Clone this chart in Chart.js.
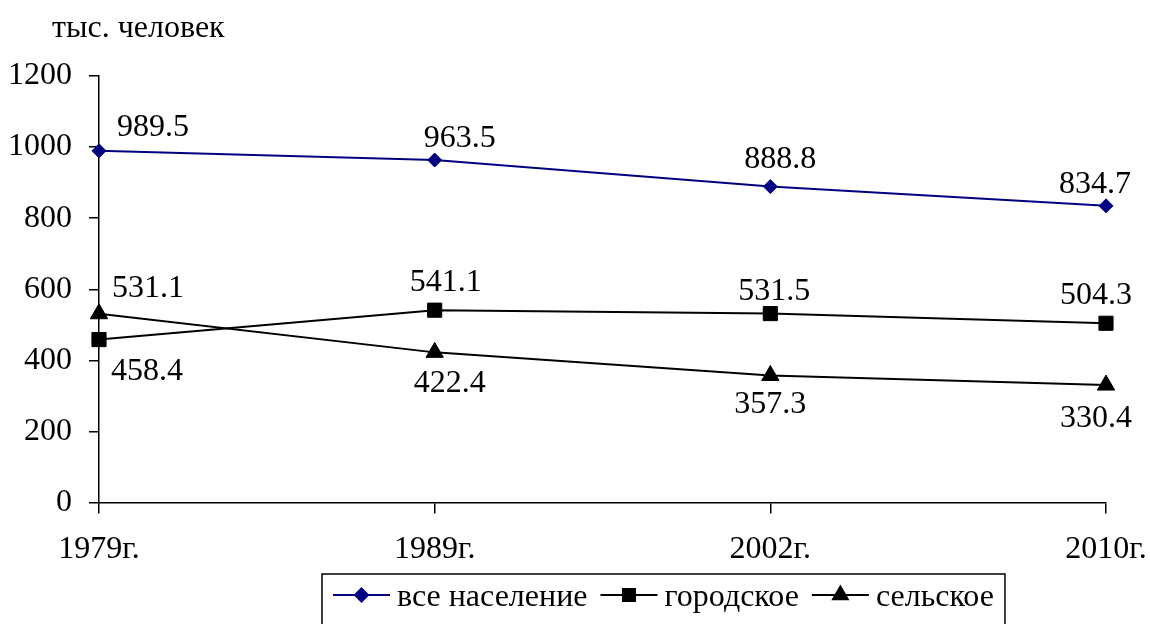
<!DOCTYPE html>
<html>
<head>
<meta charset="utf-8">
<script src="https://cdn.jsdelivr.net/npm/chart.js@4"></script>
<style>
  html, body { margin: 0; padding: 0; background: #fff; }
  canvas { display: block; }
</style>
</head>
<body>
<canvas id="populationChart" width="1150" height="624"></canvas>
<script>
// Данные графика
const years = ["1979г.", "1989г.", "2002г.", "2010г."];
const seriesNames = ["все население", "городское", "сельское"];
const totalValues = [989.5, 963.5, 888.8, 834.7];
const urbanValues = [458.4, 541.1, 531.5, 504.3];
const ruralValues = [531.1, 422.4, 357.3, 330.4];
const yTicks = [0, 200, 400, 600, 800, 1000, 1200];
const unitLabel = "тыс. человек";

// Смещения подписей значений (от центра точки), по сериям
const labelOffsets = [
  [[54, -26], [25, -24], [10, -30], [-11, -24]],
  [[48, 29], [11, -30], [4, -25], [-10, -30]],
  [[49, -28], [15, 29], [0, 26], [-10, 31]],
];

const FONT = "'Liberation Serif', 'Times New Roman', serif";
const FONT_SIZE = 32;

const markerStyles = [
  { pointStyle: "rectRot", radius: 7, color: "#000080" },
  { pointStyle: "rect", radius: 10, color: "#000000" },
  { pointStyle: "triangle", radius: 10, color: "#000000" },
];

// Подписи значений у точек
const valueLabelsPlugin = {
  id: "valueLabels",
  afterDatasetsDraw(chart) {
    const ctx = chart.ctx;
    ctx.save();
    ctx.font = FONT_SIZE + "px " + FONT;
    ctx.fillStyle = "#000";
    ctx.textAlign = "center";
    ctx.textBaseline = "alphabetic";
    chart.data.datasets.forEach((ds, i) => {
      const meta = chart.getDatasetMeta(i);
      meta.data.forEach((pt, j) => {
        const off = labelOffsets[i][j];
        ctx.fillText(ds.data[j].toFixed(1), pt.x + off[0], pt.y + off[1] + 11);
      });
    });
    ctx.restore();
  },
};

// Подпись единиц и легенда в рамке
const extrasPlugin = {
  id: "extras",
  afterDraw(chart) {
    const ctx = chart.ctx;
    ctx.save();
    ctx.fillStyle = "#000";
    ctx.font = FONT_SIZE + "px " + FONT;
    ctx.textAlign = "left";
    ctx.textBaseline = "alphabetic";
    ctx.fillText(unitLabel, 52, 37);

    // легенда
    const lineW = 57, gapText = 7, gapItem = 13;
    const boxLeft = 322, boxTop = 574, midY = 595;
    let x = boxLeft + 11;
    let textEnd = x;
    seriesNames.forEach((name, i) => {
      const st = markerStyles[i];
      ctx.strokeStyle = st.color;
      ctx.lineWidth = 2;
      ctx.beginPath();
      ctx.moveTo(x, midY);
      ctx.lineTo(x + lineW, midY);
      ctx.stroke();
      ctx.fillStyle = st.color;
      Chart.helpers.drawPoint(ctx, {
        pointStyle: st.pointStyle,
        radius: st.pointStyle === "rectRot" ? 6.5 : 8.5,
        rotation: 0,
        borderWidth: 1,
      }, x + lineW / 2, midY);
      ctx.fill();
      ctx.fillStyle = "#000";
      const tx = x + lineW + gapText;
      ctx.fillText(name, tx, midY + 11);
      textEnd = tx + ctx.measureText(name).width;
      x = textEnd + gapItem;
    });
    ctx.strokeStyle = "#000";
    ctx.lineWidth = 1.5;
    ctx.strokeRect(boxLeft, boxTop, textEnd + 11 - boxLeft, 80);
    ctx.restore();
  },
};

const ctx = document.getElementById("populationChart").getContext("2d");
const makeDataset = (label, data, st) => ({
  label: label,
  data: data,
  borderColor: st.color,
  backgroundColor: st.color,
  pointBackgroundColor: st.color,
  pointBorderColor: st.color,
  borderWidth: 2,
  pointStyle: st.pointStyle,
  pointRadius: st.radius,
  pointBorderWidth: 1,
  tension: 0,
});

new Chart(ctx, {
  type: "line",
  data: {
    labels: years,
    datasets: [
      makeDataset(seriesNames[0], totalValues, markerStyles[0]),
      makeDataset(seriesNames[1], urbanValues, markerStyles[1]),
      makeDataset(seriesNames[2], ruralValues, markerStyles[2]),
    ],
  },
  options: {
    responsive: false,
    animation: false,
    layout: { padding: { left: 0, right: 44, top: 76, bottom: 0 } },
    plugins: {
      legend: { display: false },
      tooltip: { enabled: false },
    },
    elements: { point: { hoverRadius: 0 } },
    scales: {
      x: {
        offset: false,
        grid: { drawOnChartArea: false, drawTicks: true, tickLength: 11, color: "#000", lineWidth: 1.5 },
        border: { display: true, color: "#000", width: 1.5 },
        ticks: { color: "#000", font: { family: FONT, size: FONT_SIZE }, padding: 17, maxRotation: 0 },
        afterFit(scale) {
          scale.height = 121.5;
          scale.paddingLeft = 0;
          scale.paddingRight = 0;
        },
      },
      y: {
        min: 0,
        max: 1200,
        afterBuildTicks(scale) { scale.ticks = yTicks.map((v) => ({ value: v })); },
        grid: { drawOnChartArea: false, drawTicks: true, tickLength: 10, color: "#000", lineWidth: 1.5 },
        border: { display: true, color: "#000", width: 1.5 },
        ticks: {
          color: "#000",
          font: { family: FONT, size: FONT_SIZE },
          padding: 17,
          callback: (v) => String(v),
        },
        afterFit(scale) {
          scale.width = 99;
          scale.paddingTop = 0;
          scale.paddingBottom = 0;
        },
      },
    },
  },
  plugins: [valueLabelsPlugin, extrasPlugin],
});
</script>
</body>
</html>
